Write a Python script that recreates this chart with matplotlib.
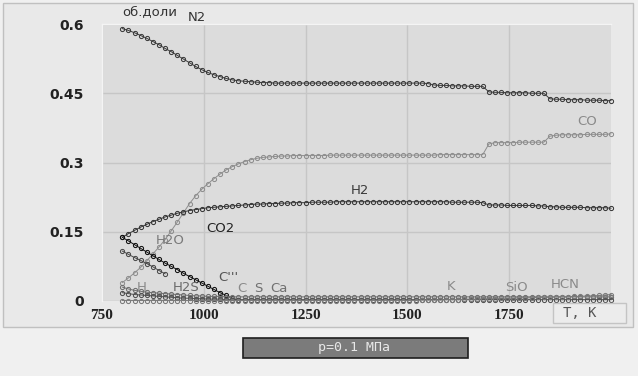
import matplotlib as mpl
import matplotlib.pyplot as plt
import numpy as np
from matplotlib.patches import Rectangle

mpl.use('Agg')

# temperature grid, K (one point every 15 K)
temps = np.arange(800, 2001, 15)

n2 = [0.590, 0.586, 0.581, 0.575, 0.569, 0.562, 0.555, 0.547, 0.540, 0.532,
      0.524, 0.516, 0.508, 0.501, 0.495, 0.490, 0.486, 0.482, 0.479, 0.477,
      0.476, 0.475, 0.474, 0.473, 0.473, 0.472, 0.472, 0.472, 0.472, 0.472,
      0.472, 0.472, 0.472, 0.472, 0.472, 0.472, 0.472, 0.472, 0.472, 0.472,
      0.472, 0.472, 0.472, 0.472, 0.472, 0.472, 0.472, 0.472, 0.472, 0.472,
      0.471, 0.468, 0.467, 0.467, 0.466, 0.466, 0.466, 0.465, 0.465, 0.465,
      0.453, 0.452, 0.452, 0.451, 0.451, 0.451, 0.451, 0.450, 0.450, 0.450,
      0.438, 0.437, 0.437, 0.436, 0.436, 0.436, 0.435, 0.435, 0.435, 0.434,
      0.434]

co = [0.040, 0.050, 0.061, 0.073, 0.087, 0.102, 0.117, 0.133, 0.152, 0.171,
      0.191, 0.211, 0.228, 0.242, 0.254, 0.265, 0.275, 0.284, 0.291, 0.297,
      0.302, 0.306, 0.309, 0.311, 0.312, 0.313, 0.314, 0.314, 0.315, 0.315,
      0.315, 0.315, 0.315, 0.315, 0.316, 0.316, 0.316, 0.316, 0.316, 0.316,
      0.316, 0.316, 0.316, 0.316, 0.316, 0.316, 0.316, 0.316, 0.316, 0.316,
      0.316, 0.316, 0.317, 0.317, 0.317, 0.317, 0.317, 0.317, 0.317, 0.317,
      0.340, 0.343, 0.343, 0.343, 0.343, 0.344, 0.344, 0.344, 0.344, 0.344,
      0.357, 0.359, 0.360, 0.360, 0.360, 0.360, 0.361, 0.361, 0.361, 0.361,
      0.362]

h2 = [0.138, 0.146, 0.153, 0.160, 0.166, 0.172, 0.177, 0.182, 0.186, 0.190,
      0.193, 0.196, 0.198, 0.200, 0.202, 0.203, 0.204, 0.205, 0.206, 0.207,
      0.208, 0.209, 0.210, 0.210, 0.211, 0.211, 0.212, 0.212, 0.213, 0.213,
      0.213, 0.214, 0.214, 0.214, 0.214, 0.215, 0.215, 0.215, 0.215, 0.215,
      0.215, 0.215, 0.215, 0.215, 0.215, 0.215, 0.215, 0.215, 0.215, 0.215,
      0.215, 0.215, 0.215, 0.215, 0.214, 0.214, 0.214, 0.214, 0.214, 0.213,
      0.208, 0.208, 0.208, 0.207, 0.207, 0.207, 0.207, 0.207, 0.206, 0.206,
      0.204, 0.204, 0.203, 0.203, 0.203, 0.203, 0.202, 0.202, 0.202, 0.202,
      0.201]

# CO2 and H2O vanish early
co2 = [0.138, 0.130, 0.122, 0.114, 0.106, 0.098, 0.090, 0.082, 0.075, 0.068,
       0.060, 0.053, 0.046, 0.039, 0.032, 0.025, 0.018, 0.012, 0.006, 0.002]
h2o = [0.108, 0.101, 0.094, 0.088, 0.081, 0.074, 0.066, 0.059]

# minor species near zero
h = [0.030, 0.026, 0.023, 0.021, 0.019, 0.018, 0.017, 0.016, 0.015, 0.014,
     0.013, 0.012, 0.011, 0.011, 0.010, 0.010, 0.010, 0.009, 0.009, 0.009,
     0.009, 0.009, 0.009, 0.009, 0.009, 0.009, 0.009, 0.009, 0.009, 0.009,
     0.009, 0.009, 0.009, 0.009, 0.009, 0.009, 0.009, 0.009, 0.009, 0.009,
     0.009, 0.009, 0.009, 0.009, 0.009, 0.009, 0.009, 0.009, 0.009, 0.009,
     0.009, 0.009, 0.009, 0.009, 0.009, 0.009, 0.009, 0.009, 0.009, 0.009,
     0.009, 0.009, 0.009, 0.009, 0.009, 0.009, 0.009, 0.009, 0.009, 0.009,
     0.009, 0.009, 0.009, 0.009, 0.009, 0.009, 0.009, 0.009, 0.009, 0.009,
     0.009]
h2s = [0.018, 0.016, 0.014, 0.013, 0.012, 0.011, 0.010, 0.009, 0.008, 0.007,
       0.006, 0.006, 0.005, 0.005, 0.004, 0.004, 0.004, 0.003, 0.003, 0.003,
       0.003, 0.003, 0.003, 0.003, 0.003, 0.003, 0.003, 0.003, 0.003, 0.003,
       0.003, 0.003, 0.003, 0.003, 0.003, 0.003, 0.003, 0.003, 0.003, 0.003,
       0.003, 0.003, 0.003, 0.003, 0.003, 0.003, 0.003, 0.003, 0.003, 0.003,
       0.003, 0.003, 0.003, 0.003, 0.003, 0.003, 0.003, 0.003, 0.003, 0.003,
       0.003, 0.003, 0.003, 0.003, 0.003, 0.003, 0.003, 0.003, 0.003, 0.003,
       0.003, 0.003, 0.003, 0.003, 0.003, 0.003, 0.003, 0.003, 0.003, 0.003,
       0.003]
hcn = [0.001, 0.001, 0.001, 0.001, 0.001, 0.001, 0.001, 0.001, 0.001, 0.001,
       0.001, 0.001, 0.001, 0.001, 0.001, 0.001, 0.001, 0.001, 0.001, 0.001,
       0.001, 0.001, 0.001, 0.001, 0.001, 0.001, 0.001, 0.001, 0.001, 0.001,
       0.001, 0.001, 0.001, 0.001, 0.001, 0.001, 0.001, 0.001, 0.001, 0.001,
       0.001, 0.001, 0.001, 0.001, 0.001, 0.001, 0.001, 0.001, 0.001, 0.002,
       0.002, 0.002, 0.002, 0.003, 0.003, 0.003, 0.004, 0.004, 0.004, 0.005,
       0.005, 0.005, 0.006, 0.006, 0.006, 0.007, 0.007, 0.007, 0.008, 0.008,
       0.008, 0.009, 0.009, 0.009, 0.010, 0.010, 0.011, 0.011, 0.012, 0.013,
       0.014]

series = [
    (temps, n2, '#3c3c3c'),
    (temps, co, '#8e8e8e'),
    (temps, h2, '#383838'),
    (temps[:len(co2)], co2, '#111111'),
    (temps[:len(h2o)], h2o, '#4a4a4a'),
    (temps, h, '#6e6e6e'),
    (temps, h2s, '#505050'),
    (temps, hcn, '#7a7a7a'),
]

# species labels: (text, T, value, colour)
labels = [
    ('N2', 983, 0.613, '#333333'),
    ('CO', 1941, 0.388, '#8a8a8a'),
    ('H2', 1384, 0.240, '#3a3a3a'),
    ('CO2', 1040, 0.158, '#222222'),
    ('H2O', 917, 0.130, '#7a7a7a'),
    ('H', 848, 0.030, '#8a8a8a'),
    ('H2S', 956, 0.030, '#6a6a6a'),
    ("C'''", 1059, 0.050, '#555555'),
    ('C', 1094, 0.028, '#8a8a8a'),
    ('S', 1133, 0.028, '#707070'),
    ('Ca', 1185, 0.028, '#707070'),
    ('K', 1607, 0.032, '#8a8a8a'),
    ('SiO', 1769, 0.030, '#8a8a8a'),
    ('HCN', 1887, 0.035, '#8a8a8a'),
]

x_ticks = [750, 1000, 1250, 1500, 1750]
y_ticks = [0, 0.15, 0.3, 0.45, 0.6]
y_ticklabels = ['0', '0.15', '0.3', '0.45', '0.6']


def px(x, y):
    # pixel position on the 638x376 canvas -> figure fraction
    return x / 638, 1 - y / 376


def main():
    fig = plt.figure(figsize=(6.38, 3.76), dpi=100, facecolor='#f0f0f0')

    # outer panel
    x0, y0 = px(3, 327)
    x1, y1 = px(633, 3)
    fig.patches.append(Rectangle((x0, y0), x1 - x0, y1 - y0, transform=fig.transFigure,
                                 facecolor='#e9e9e9', edgecolor='#c0c0c0', lw=1, zorder=-1))

    ax = fig.add_axes([102 / 638, 1 - 301 / 376, 509 / 638, 277 / 376])
    ax.set_zorder(1)
    ax.set_facecolor('#dcdcdc')
    for t, v, c in series:
        ax.plot(t, v, color=c, lw=0.7, marker='o', markersize=3.0, mfc='none',
                mec=c, mew=0.75, clip_on=False, zorder=3)

    for text, t, v, c in labels:
        ax.text(t, v, text, color=c, fontsize=9.5, ha='center', va='center', clip_on=False)

    ax.set_xlim(750, 2000)
    ax.set_ylim(0, 0.6)
    ax.set_xticks(x_ticks)
    ax.set_yticks(y_ticks)
    ax.set_yticklabels(y_ticklabels)
    ax.tick_params(length=0)
    ax.tick_params(axis='y', pad=13, labelsize=10, labelcolor='#222222')
    ax.tick_params(axis='x', pad=6, labelsize=11, labelcolor='#222222')
    for lab in ax.get_yticklabels():
        lab.set_fontweight('bold')
    for lab in ax.get_xticklabels():
        lab.set_fontfamily('Liberation Serif')
        lab.set_fontweight('bold')
    ax.grid(True, color='#c6c6c6', lw=1)
    ax.set_axisbelow(True)
    for side in ['bottom', 'right']:
        ax.spines[side].set_visible(False)
    for side in ['top', 'left']:
        ax.spines[side].set_color('#f4f4f4')
        ax.spines[side].set_linewidth(1)

    fx, fy = px(150, 12)
    fig.text(fx, fy, 'об.доли', fontsize=9.5, color='#333333', ha='center', va='center')

    # axis unit box
    bx0, by0 = px(553, 323)
    bx1, by1 = px(626, 303)
    fig.patches.append(Rectangle((bx0, by0), bx1 - bx0, by1 - by0, transform=fig.transFigure,
                                 facecolor='#ececec', edgecolor='#c4c4c4', lw=1, zorder=1))
    fx, fy = px(580, 313)
    fig.text(fx, fy, 'Т, К', family='DejaVu Sans Mono', fontsize=10, color='#555555',
             ha='center', va='center')

    # pressure box
    px0, py0 = px(243, 358)
    px1, py1 = px(468, 338)
    fig.patches.append(Rectangle((px0, py0), px1 - px0, py1 - py0, transform=fig.transFigure,
                                 facecolor='#7b7b7b', edgecolor='#1e1e1e', lw=1.2, zorder=1))
    fx, fy = px(354, 348)
    fig.text(fx, fy, 'p=0.1 МПа', family='DejaVu Sans Mono', fontsize=9.5, color='#e8e8e8',
             ha='center', va='center')

    fig.savefig('out.png', dpi=100, facecolor=fig.get_facecolor())


if __name__ == '__main__':
    main()
